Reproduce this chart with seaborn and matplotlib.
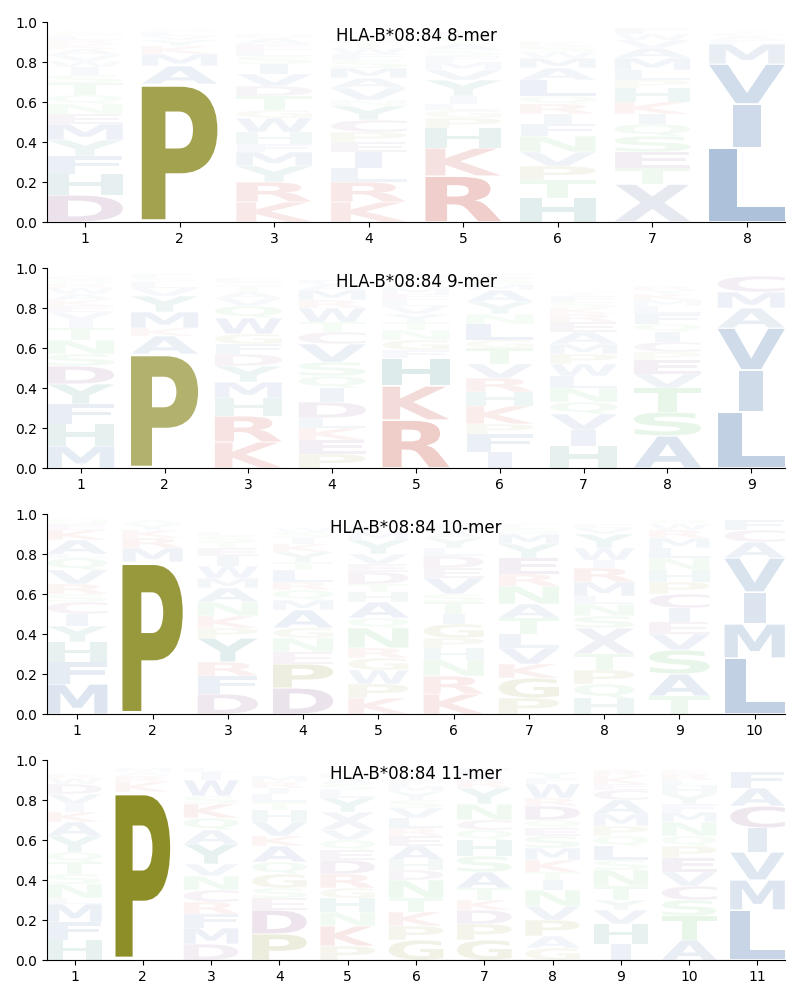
import matplotlib
matplotlib.use("Agg")
import matplotlib.pyplot as plt
import seaborn as sns
from matplotlib.textpath import TextPath
from matplotlib.patches import PathPatch
from matplotlib.font_manager import FontProperties
from matplotlib.transforms import Affine2D

allele = "HLA-B*08:84"
lengths = [8, 9, 10, 11]

# letters per position, listed bottom -> top, with their heights (frequency)
mer8_letters = ["DHFYMENQTSIWVAKRLGC", "PAMKYVLS", "KRYMFHWGTDVISLEAN",
                "KRLIEPCYNVAMSFWTG", "RKHPGLIYVMFSATQE", "HTPVNFIRQLAMWSK",
                "XTESQIKHPLMAVWF", "LIVMFACTS"]
mer8_heights = [
    [.135, .105, .09, .08, .08, .05, .05, .045, .06, .04, .04, .03, .03, .03, .025, .02, .02, .015, .01],
    [.69, .09, .06, .04, .03, .02, .02, .015],
    [.1, .1, .08, .07, .04, .06, .07, .04, .07, .05, .06, .05, .04, .03, .03, .03, .02],
    [.1, .1, .07, .08, .05, .05, .06, .07, .03, .06, .05, .05, .04, .03, .03, .03, .02],
    [.23, .14, .1, .05, .04, .03, .04, .08, .05, .04, .03, .03, .03, .02, .02, .02],
    [.12, .09, .07, .07, .08, .06, .05, .05, .04, .08, .06, .05, .03, .03, .02],
    [.19, .08, .08, .08, .06, .05, .06, .07, .04, .05, .06, .05, .04, .03, .03],
    [.37, .22, .2, .1, .02, .02, .015, .01, .01],
]

mer9_letters = ["MHFYDSNTIVEKAWRQG", "PAKMYVLSF", "KRHMYDFGWQVATSE",
                "PEKLDIQSVCTWRMAF", "RKHFGNTYVLEMASQ", "IFPKHRVTGLNYAMSE",
                "HIVQNLWPMAERKSFT", "ASTVEPCIQFLMKYR", "LIVAMCF"]
mer9_heights = [
    [.11, .11, .1, .1, .09, .06, .07, .06, .04, .04, .03, .03, .03, .03, .02, .02, .02],
    [.57, .09, .04, .08, .08, .04, .03, .02, .02],
    [.13, .13, .09, .08, .08, .06, .05, .05, .08, .06, .04, .03, .03, .02, .02],
    [.07, .07, .06, .05, .08, .07, .06, .07, .09, .06, .05, .07, .04, .05, .03, .02],
    [.24, .17, .14, .04, .05, .05, .04, .04, .04, .03, .03, .03, .03, .02, .02],
    [.08, .09, .05, .09, .07, .07, .07, .08, .04, .08, .05, .06, .06, .03, .03, .02],
    [.11, .08, .08, .06, .07, .06, .06, .05, .05, .06, .05, .04, .03, .03, .03, .02],
    [.16, .12, .12, .07, .07, .04, .05, .05, .04, .05, .04, .03, .03, .02, .02],
    [.28, .21, .21, .1, .08, .08, .01],
]

mer10_letters = ["MFHYICSRVQLAKENW", "PMRKYA", "DFRYPKNAMWIETSL",
                 "DPENGAMQRLTYKISW", "KPWGRNQAHTDEVYML", "KRNHPGITSVEDLYAMW",
                 "PGKVLTANREYMSF", "HQPTXSNLMRIWYVE", "TASVEICPHNLMRWQ", "LMIVACF"]
mer10_heights = [
    [.15, .11, .1, .08, .06, .06, .04, .05, .07, .06, .02, .07, .05, .03, .02, .01],
    [.76, .07, .05, .04, .03, .02],
    [.1, .09, .07, .12, .05, .06, .07, .07, .05, .06, .05, .04, .03, .03, .02],
    [.13, .12, .06, .07, .05, .09, .05, .05, .04, .06, .04, .05, .04, .03, .03, .02],
    [.08, .07, .07, .06, .05, .1, .05, .08, .05, .04, .06, .04, .05, .07, .04, .03],
    [.1, .09, .08, .06, .05, .07, .05, .06, .04, .08, .05, .06, .04, .05, .03, .03, .02],
    [.08, .1, .07, .08, .07, .08, .07, .09, .06, .08, .07, .05, .03, .02],
    [.08, .07, .07, .08, .13, .06, .06, .04, .07, .07, .04, .06, .07, .03, .02],
    [.09, .11, .12, .08, .06, .07, .07, .06, .06, .06, .05, .05, .04, .03, .02],
    [.28, .17, .16, .17, .08, .06, .05],
]

mer11_letters = ["HFMLNSTQYAKIVDWR", "PKRAM", "DMFRCNVYAQKSWIL",
                 "PDESGQAKVHTLIRM", "PKNHGRDEQVXYLSAM", "GPKTNDHAERLVSYMF",
                 "GPDKTASHQCNYRIF", "GAPVNITKMSEQDRWFY", "IHVYTNSLQPMACEKR",
                 "ATSCVEPQNMFYHLRK", "LMVICAF"]
mer11_heights = [
    [.1, .09, .09, .03, .07, .05, .06, .05, .08, .07, .05, .04, .05, .05, .03, .02],
    [.84, .05, .03, .02, .02],
    [.08, .08, .07, .06, .06, .07, .06, .1, .07, .06, .07, .04, .08, .04, .02],
    [.13, .12, .06, .05, .07, .06, .08, .05, .07, .06, .04, .04, .03, .03, .03],
    [.07, .1, .07, .07, .05, .07, .07, .05, .05, .05, .09, .07, .04, .03, .03, .02],
    [.1, .07, .07, .07, .09, .05, .05, .07, .05, .04, .05, .05, .04, .04, .03, .03],
    [.1, .08, .07, .05, .06, .08, .08, .08, .05, .05, .08, .08, .04, .03, .03],
    [.06, .06, .08, .07, .08, .05, .04, .06, .06, .06, .04, .04, .07, .04, .07, .03, .03],
    [.08, .1, .07, .05, .07, .08, .05, .07, .05, .05, .06, .07, .05, .03, .04, .03],
    [.1, .12, .08, .07, .07, .07, .06, .05, .07, .05, .04, .05, .04, .03, .03, .02],
    [.25, .15, .14, .12, .11, .09, .08],
]

# amino acid colour groups
color_groups = {
    "DEC": (.42, .16, .42),
    "PG": (.47, .47, 0.0),
    "MIWALFV": (.13, .35, .61),
    "NTSQ": (.25, .73, .28),
    "RK": (.74, .18, .12),
    "HY": (.09, .47, .46),
    "X": (.5, .55, .7),
}
aa_color = {aa: col for group, col in color_groups.items() for aa in group}

all_letters = [mer8_letters, mer9_letters, mer10_letters, mer11_letters]
all_heights = [mer8_heights, mer9_heights, mer10_heights, mer11_heights]

sns.set_style("ticks", {"axes.edgecolor": "black", "xtick.color": "black",
                        "ytick.color": "black", "text.color": "black",
                        "axes.labelcolor": "black"})
plt.rcParams["font.family"] = ["DejaVu Sans"]

fp = FontProperties(family="DejaVu Sans", weight="bold")
ref_e = TextPath((0, 0), "E", size=1, prop=fp).get_extents()


def draw_letter(ax, c, x, floor, ceil, color, alpha, width=0.8, vpad=0.04):
    path = TextPath((0, 0), c, size=1, prop=fp)
    bb = path.get_extents()
    # don't stretch narrow letters more than an 'E'
    hs = min(width / bb.width, width / ref_e.width)
    shift = (width - hs * bb.width) / 2
    h = ceil - floor
    vs = h * (1 - vpad) / bb.height
    tr = (Affine2D().translate(-bb.xmin, -bb.ymin).scale(hs, vs)
          .translate(x - width / 2 + shift, floor + h * vpad / 2))
    ax.add_patch(PathPatch(tr.transform_path(path), facecolor=color,
                           edgecolor="none", linewidth=0, alpha=alpha))


fig, axes = plt.subplots(4, 1, figsize=(8, 10))
fig.subplots_adjust(left=0.059, right=0.981, top=0.978, bottom=0.04, hspace=0.23)

for ax, n, letters, heights in zip(axes, lengths, all_letters, all_heights):
    for pos in range(n):
        floor = 0.0
        for c, h in zip(letters[pos], heights[pos]):
            draw_letter(ax, c, pos + 1, floor, floor + h, aa_color[c], min(1.0, h))
            floor += h
    ax.set_xlim(0.6, n + 0.4)
    ax.set_ylim(0, 1)
    ax.set_xticks(range(1, n + 1))
    ax.set_yticks([0, 0.2, 0.4, 0.6, 0.8, 1.0])
    ax.text(0.5, 0.93, f"{allele} {n}-mer", transform=ax.transAxes,
            ha="center", va="center", fontsize=12)
    sns.despine(ax=ax)

fig.savefig("out.png", dpi=100)
